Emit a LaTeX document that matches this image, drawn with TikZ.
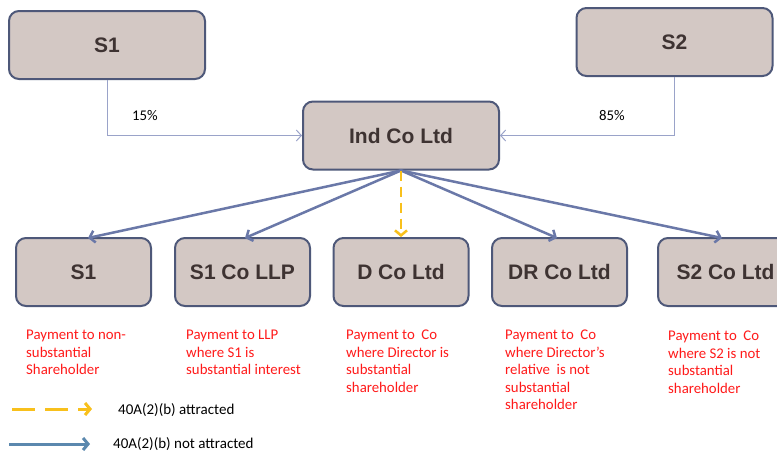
\documentclass[tikz,border=0pt]{standalone}
\usepackage{fontspec}
\setmainfont{Carlito}
\newfontfamily\boxfont{Liberation Sans}
\usetikzlibrary{arrows.meta}
\definecolor{boxfill}{HTML}{D3C8C4}
\definecolor{boxline}{HTML}{4E5879}
\definecolor{boxtext}{HTML}{3E3332}
\definecolor{conn}{HTML}{6A78A8}
\definecolor{thinconn}{HTML}{9AA3C9}
\definecolor{gold}{HTML}{F8C01C}
\definecolor{legblue}{HTML}{5B88AE}
\definecolor{notered}{HTML}{FF1A1A}
\begin{document}
\begin{tikzpicture}[x=1pt,y=-1pt,
  entity/.style={draw=boxline, line width=2pt, fill=boxfill, rounded corners=10pt,
    minimum height=68pt, text=boxtext, inner sep=0pt,
    font=\boxfont\bfseries\fontsize{21}{25}\selectfont},
  bigbox/.style={entity, minimum width=196pt},
  smallbox/.style={entity, minimum width=135pt},
  thinarrow/.style={draw=thinconn, line width=1pt, -{Straight Barb[length=5pt,width=11pt]}},
  mainarrow/.style={draw=conn, line width=2.5pt, -{Straight Barb[length=5pt,width=12pt]}},
  goldarrow/.style={draw=gold, line width=2.5pt, dash pattern=on 10pt off 6pt, -{Straight Barb[length=5pt,width=12pt]}},
  note/.style={text=notered, align=left, inner sep=0pt, font=\fontsize{14.8}{17.5}\selectfont},
  pct/.style={inner sep=0pt, font=\fontsize{14.8}{17}\selectfont},
  legtext/.style={inner sep=0pt, font=\fontsize{15}{17}\selectfont},
]
\useasboundingbox (0,0) rectangle (777,453);
\fill[white] (0,0) rectangle (777,453);

% nodes
\node[bigbox] (s1top) at (107,45) {S1};
\node[bigbox] (s2top) at (674.5,42) {S2};
\node[bigbox] (ind) at (401,135.5) {Ind Co Ltd};
\node[smallbox] (b1) at (83.5,272) {S1};
\node[smallbox] (b2) at (242.5,272) {S1 Co LLP};
\node[smallbox] (b3) at (401,272) {D Co Ltd};
\node[smallbox] (b4) at (559.5,272) {DR Co Ltd};
\node[smallbox] (b5) at (725.5,272) {S2 Co Ltd};

% shareholding connectors
\draw[thinarrow] (s1top.south) |- (ind.west);
\draw[thinarrow] (s2top.south) |- (ind.east);
\node[pct, anchor=base west] (p15) at (132,120.5) {15\%};
\node[pct, anchor=base west] (p85) at (599,120.5) {85\%};

% payment connectors
\coordinate (t1) at (88,238);
\coordinate (t2) at (245,238);
\coordinate (t4) at (557,238);
\coordinate (t5) at (722,238);
\draw[mainarrow] (ind.south) -- (t1);
\draw[mainarrow] (ind.south) -- (t2);
\draw[mainarrow] (ind.south) -- (t4);
\draw[mainarrow] (ind.south) -- (t5);
\draw[goldarrow] (ind.south) -- (b3.north);

% notes
\node[note, anchor=north west] (n1) at (26,330) {Payment to non-\\substantial\\Shareholder};
\node[note, anchor=north west] (n2) at (186,330) {Payment to LLP\\where S1 is\\substantial interest};
\node[note, anchor=north west] (n3) at (346,330) {Payment to~ Co\\where Director is\\substantial\\shareholder};
\node[note, anchor=north west] (n4) at (505,330) {Payment to~ Co\\where Director’s\\relative~ is not\\substantial\\shareholder};
\node[note, anchor=north west] (n5) at (668,331) {Payment to~ Co\\where S2 is not\\substantial\\shareholder};

% legend
\coordinate (ya) at (12,409);
\coordinate (yb) at (92,409);
\draw[draw=gold, line width=3pt, dash pattern=on 23pt off 10pt, -{Straight Barb[length=5pt,width=12pt]}] (ya) -- (yb);
\node[legtext, anchor=base west] (l1) at (118,414) {40A(2)(b) attracted};
\coordinate (ba) at (9,444);
\coordinate (bb) at (90,444);
\draw[draw=legblue, line width=3pt, -{Straight Barb[length=5pt,width=12pt]}] (ba) -- (bb);
\node[legtext, anchor=base west] (l2) at (113,448) {40A(2)(b) not attracted};
\end{tikzpicture}
\end{document}
